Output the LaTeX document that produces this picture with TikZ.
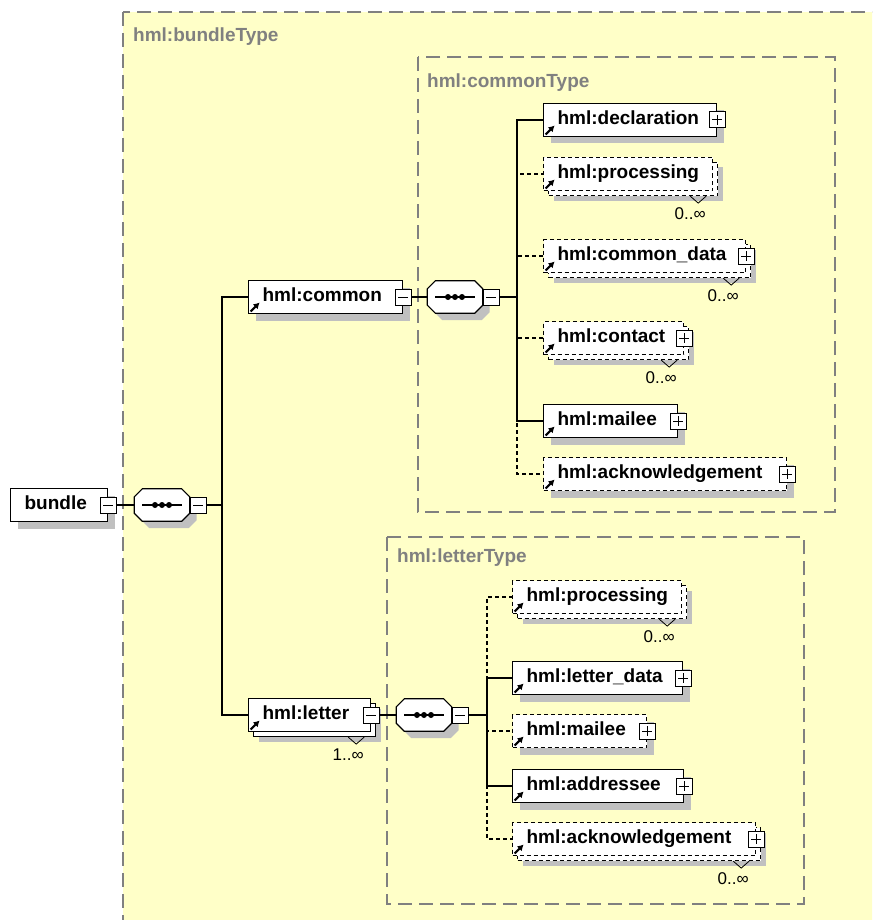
\documentclass[tikz,border=0pt]{standalone}
\usepackage{fontspec}
\setmainfont{Liberation Sans}
\usetikzlibrary{shadows,arrows.meta}
\definecolor{xsdyellow}{RGB}{255,255,200}
\definecolor{xsdgray}{RGB}{128,128,128}
\definecolor{xsdshade}{RGB}{192,192,192}
\tikzset{
  frame/.style={draw=xsdgray, line width=1.5pt, dash pattern=on 14pt off 7pt},
  frametitle/.style={anchor=north west, inner sep=0pt, text=xsdgray},
  drop/.style={general shadow={fill=xsdshade, shadow xshift=#1pt, shadow yshift=-#1pt}},
  stack/.style={general shadow={draw, fill=white, shadow xshift=5pt, shadow yshift=-5pt}},
  box/.style={draw, fill=white, line width=1.2pt, anchor=west, minimum height=33, inner xsep=14pt, inner ysep=0pt, align=left, text width=#1pt, text height=13pt, text depth=4pt},
  ref/.style={path picture={\draw[solid, line width=2pt, -{Latex[length=6pt,width=7pt]}] ([shift={(2,-2)}]path picture bounding box.south west) -- ++(9,-9);}},
  elem/.style={box=#1, drop=7, ref},
  elems/.style={box=#1, drop=10, stack, ref},
  opt/.style={dash pattern=on 4pt off 3pt},
  pm/.style={draw, fill=white, line width=1pt, minimum size=16, inner sep=0pt},
  plus/.style={pm, path picture={\draw[line width=1pt] ([xshift=3pt]path picture bounding box.west) -- ([xshift=-3pt]path picture bounding box.east) ([yshift=-3pt]path picture bounding box.north) -- ([yshift=3pt]path picture bounding box.south);}},
  minus/.style={pm, path picture={\draw[line width=1pt] ([xshift=3pt]path picture bounding box.west) -- ([xshift=-3pt]path picture bounding box.east);}},
  seq/.style={minimum width=55, minimum height=32, inner sep=0pt},
  link/.style={line width=1.2pt},
  notch/.style={line width=0.8pt},
  mult/.style={font=\fontsize{17}{17}\selectfont, inner sep=0pt}
}
\begin{document}
\begin{tikzpicture}[x=1pt,y=-1pt, every node/.append style={font=\fontsize{19}{21}\selectfont\bfseries}]
\useasboundingbox (0,0) rectangle (872,920);
\begin{scope}
\clip (0,0) rectangle (872,920);
\filldraw[frame, fill=xsdyellow] (123,12) rectangle (900,950);
\end{scope}
\node[frametitle] (bundletype) at (133,28) {hml:bundleType};
\draw[frame] (418,57) rectangle (835,512);
\node[frametitle] (commontype) at (427,74) {hml:commonType};
\draw[frame] (387,537) rectangle (804,904);
\node[frametitle] (lettertype) at (397,549) {hml:letterType};

\node[box=69, drop=7] (bundle) at (10,505) {bundle};
\node[minus] (bundlepm) at (bundle.east) {};
\node[seq] (bseq) at (162,505) {};
\coordinate (bjoin) at (222,505);

\node[elem=126] (common) at (248,297) {hml:common};
\node[minus] (commonpm) at (common.east) {};
\node[seq] (cseq) at (455,297) {};
\coordinate (cjoin) at (517,297);

\node[elems=94] (letter) at (248,715) {hml:letter};
\node[minus] (letterpm) at (letter.east) {};
\node[seq] (lseq) at (424,715) {};
\coordinate (ljoin) at (487,715);

\foreach \s in {bseq,cseq,lseq}{
  \filldraw[link, fill=white, drop=7] ([xshift=8pt]\s.north west) -- ([xshift=-8pt]\s.north east) -- ([yshift=-8pt]\s.north east)
    -- ([yshift=8pt]\s.south east) -- ([xshift=-8pt]\s.south east) -- ([xshift=8pt]\s.south west)
    -- ([yshift=8pt]\s.south west) -- ([yshift=-8pt]\s.north west) -- cycle;
  \draw[line width=1.1pt] ([xshift=8pt]\s.west) -- ([xshift=-8pt]\s.east);
  \foreach \d in {-7,0,7} \fill ([xshift=\d pt]\s.center) circle (3pt);
  \node[minus, anchor=west] (\s-pm) at (\s.east) {};
}

\node[elem=145] (cdecl) at (543,120) {hml:declaration};
\node[elems=141, opt] (cproc) at (543,174) {hml:processing};
\node[elems=174, opt] (cdata) at (543,256) {hml:common\_data};
\node[elems=112, opt] (ccont) at (543,338) {hml:contact};
\node[elem=106] (cmail) at (543,421) {hml:mailee};
\node[elem=215, opt] (cack) at (543,474) {hml:acknowledgement};

\node[elems=141, opt] (lproc) at (512,597) {hml:processing};
\node[elem=142] (ldata) at (512,678) {hml:letter\_data};
\node[elem=106, opt] (lmail) at (512,731) {hml:mailee};
\node[elem=143] (laddr) at (512,786) {hml:addressee};
\node[elems=215, opt] (lack) at (512,839) {hml:acknowledgement};

\foreach \n in {cdecl,cdata,ccont,cmail,cack,ldata,lmail,laddr,lack}
  \node[plus] (\n-pm) at (\n.east) {};

\draw[link] (bundlepm) -- (bseq);
\draw[link] (bseq-pm) -- (bjoin);
\draw[link] (bjoin) |- (common);
\draw[link] (bjoin) |- (letter);
\draw[link] (commonpm) -- (cseq);
\draw[link] (cseq-pm) -- (cjoin);
\draw[link] (letterpm) -- (lseq);
\draw[link] (lseq-pm) -- (ljoin);
\foreach \n in {cproc,cdata,ccont,cack} \draw[link, opt] (cjoin) |- (\n);
\foreach \n in {cdecl,cmail} \draw[link] (cjoin) |- (\n);
\foreach \n in {lproc,lmail,lack} \draw[link, opt] (ljoin) |- (\n);
\foreach \n in {ldata,laddr} \draw[link] (ljoin) |- (\n);

\foreach \n/\m in {cproc/0,cdata/0,ccont/0,lproc/0,lack/0,letter/1}
  \draw[notch] ([shift={(-23,5)}]\n.south east) -- ++(8,7) node[mult, below=4pt, xshift=-8pt] {\m..∞} -- ++(8,-7);
\end{tikzpicture}
\end{document}
